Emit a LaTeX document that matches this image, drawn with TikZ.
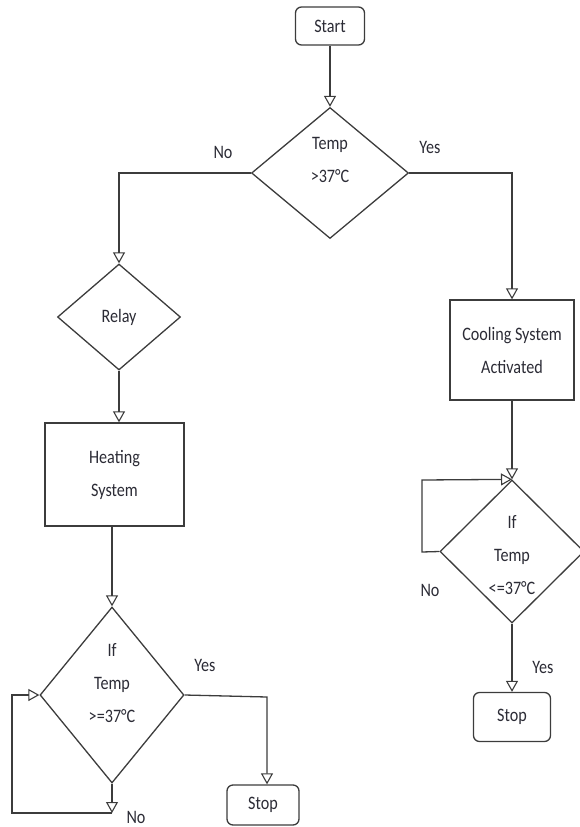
\documentclass[tikz,border=0pt]{standalone}
\usepackage{fontspec}
\setmainfont{Carlito}[FakeStretch=0.85]
\usetikzlibrary{shapes.geometric,arrows.meta}
\definecolor{ln}{HTML}{3C3C3C}
\definecolor{tx}{HTML}{2B2B35}
\tikzset{
  base/.style={draw=ln, line width=1.3pt, text=tx, align=center, inner sep=0pt,
    font={\fontsize{19}{33}\selectfont}},
  term/.style={base, rounded corners=6pt},
  procbox/.style={base},
  dec/.style={base, shape=diamond},
  txt/.style={text=tx, align=center, inner sep=0pt, font={\fontsize{19}{33}\selectfont}},
  conn/.style={draw=ln, line width=1.3pt},
  arr/.style={conn, -{Triangle[open, length=11pt, width=12pt, line width=1.1pt]}}
}
\begin{document}
\begin{tikzpicture}[x=1pt,y=-1pt]
\useasboundingbox (0,0) rectangle (580,827);
% nodes
\node[term, minimum width=69pt, minimum height=38pt] (start) at (330,26) {Start};
\node[dec, minimum width=157pt, minimum height=131pt] (d1) at (330,173) {};
\node[txt] (d1t) at (330,160) {Temp\\>37°C};
\node[dec, minimum width=123pt, minimum height=106pt] (d2) at (119,317) {Relay};
\node[procbox, minimum width=139pt, minimum height=103pt] (heat) at (114.5,474.5) {Heating\\System};
\node[dec, minimum width=144pt, minimum height=176pt] (d4) at (112,695) {};
\node[txt] (d4t) at (112,683) {If\\Temp\\>=37°C};
\node[term, minimum width=72pt, minimum height=40pt] (stop1) at (263,805) {Stop};
\node[procbox, minimum width=124pt, minimum height=100pt] (cool) at (512,350) {Cooling System\\Activated};
\node[dec, minimum width=144pt, minimum height=143pt] (d3) at (512,551.5) {};
\node[txt] (d3t) at (512,555) {If\\Temp\\<=37°C};
\node[term, minimum width=77pt, minimum height=49pt] (stop2) at (512,717) {Stop};
% labels
\node[txt] (lno1) at (223,152) {No};
\node[txt] (lyes1) at (430,147) {Yes};
\node[txt] (lno3) at (430,590) {No};
\node[txt] (lyes3) at (543,667) {Yes};
\node[txt] (lyes4) at (205,665) {Yes};
\node[txt] (lno4) at (136,817) {No};
% helper coordinates
\coordinate (c1) at (119,173);
\coordinate (c2) at (512,173);
\coordinate (c3) at (422,552);
\coordinate (c4) at (422,480);
\coordinate (c5) at (267,697);
\coordinate (n4) at (112,813);
\coordinate (c6) at (12,813);
\coordinate (c7) at (12,695);
% connectors
\draw[arr] (start.south) -- (d1.north);
\draw[arr] (d1.west) -- (c1) -- (d2.north);
\draw[arr] (d1.east) -- (c2) -- (cool.north);
\draw[arr] (d2.south) -- (d2.south |- heat.north);
\draw[arr] (d4.north |- heat.south) -- (d4.north);
\draw[arr] (cool.south) -- (d3.north);
\draw[arr] (d3.west) -- (c3) -- (c4) -- (d3.north);
\draw[arr] (d3.south) -- (stop2.north);
\draw[arr] (d4.east) -- (c5) -- (c5 |- stop1.north);
\draw[arr] (d4.south) -- (n4);
\draw[arr] (n4) -- (c6) -- (c7) -- (d4.west);
\end{tikzpicture}
\end{document}
